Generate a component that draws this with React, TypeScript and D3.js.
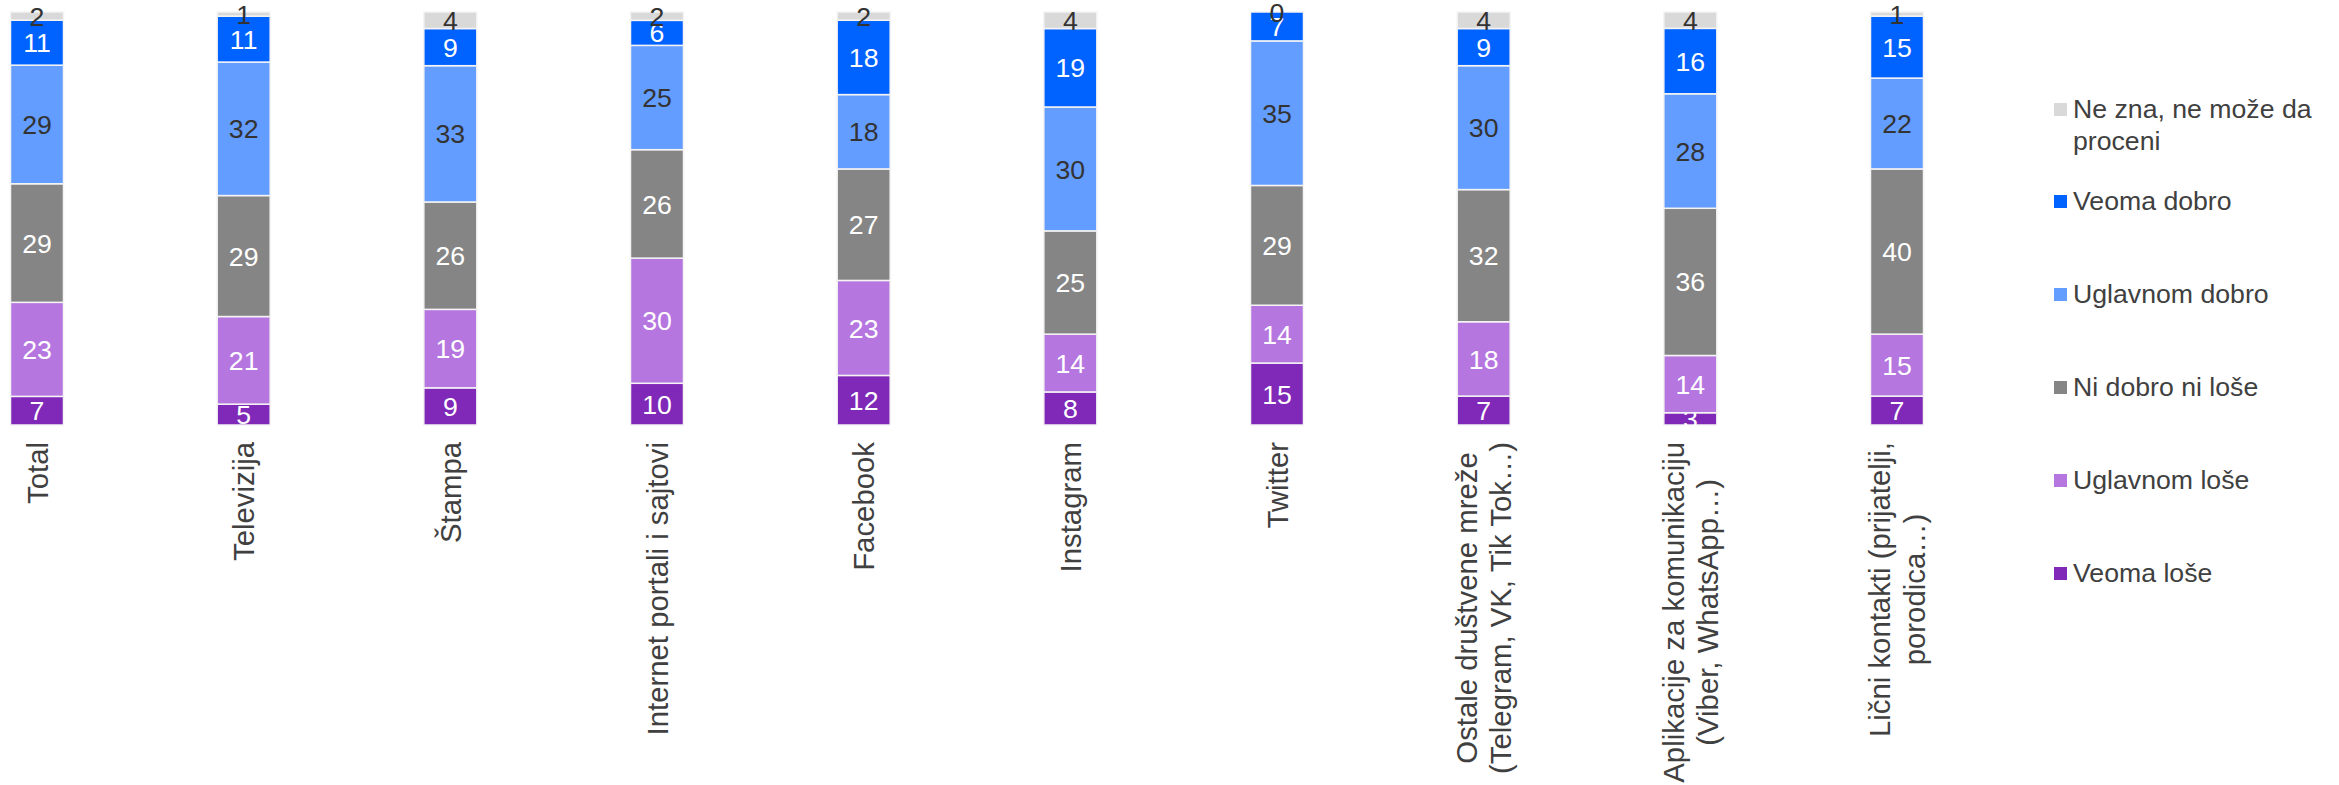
import React, { useEffect, useRef } from 'react';
import * as d3 from 'd3';

const categories = [
  'Total',
  'Televizija',
  'Štampa',
  'Internet portali i sajtovi',
  'Facebook',
  'Instagram',
  'Twitter',
  'Ostale društvene mreže\n(Telegram, VK, Tik Tok…)',
  'Aplikacije za komunikaciju\n(Viber, WhatsApp…)',
  'Lični kontakti (prijatelji,\nporodica…)',
];

// bottom to top
const seriesNames = ['Veoma loše', 'Uglavnom loše', 'Ni dobro ni loše', 'Uglavnom dobro', 'Veoma dobro', 'Ne zna, ne može da\nproceni'];
const veomaLose = [7, 5, 9, 10, 12, 8, 15, 7, 3, 7];
const uglavnomLose = [23, 21, 19, 30, 23, 14, 14, 18, 14, 15];
const niDobroNiLose = [29, 29, 26, 26, 27, 25, 29, 32, 36, 40];
const uglavnomDobro = [29, 32, 33, 25, 18, 30, 35, 30, 28, 22];
const veomaDobro = [11, 11, 9, 6, 18, 19, 7, 9, 16, 15];
const neZna = [2, 1, 4, 2, 2, 4, 0, 4, 4, 1];

const colors = ['#8028b8', '#b676df', '#858585', '#639dff', '#0062ff', '#d9d9d9'];
const labelColors = ['#ffffff', '#ffffff', '#ffffff', '#333333', '#ffffff', '#333333'];

const W = 2339;
const H = 785;
const FONT = 'Arial, "Liberation Sans", sans-serif';

export default function App() {
  const svgRef = useRef<SVGSVGElement>(null);

  useEffect(() => {
    if (!svgRef.current) return;
    const svg = d3.select(svgRef.current);
    svg.selectAll('*').remove();

    const values = [veomaLose, uglavnomLose, niDobroNiLose, uglavnomDobro, veomaDobro, neZna];
    const keys = seriesNames.map((_, i) => 's' + i);
    const table = categories.map((c, j) => {
      const row: any = { cat: c };
      const total = d3.sum(values, v => v[j]) || 1;
      values.forEach((v, i) => { row['s' + i] = v[j] / total; row['v' + i] = v[j]; });
      return row;
    });

    const stack = d3.stack().keys(keys)(table);

    const x = d3.scalePoint<string>().domain(categories).range([37, 1897]);
    const y = d3.scaleLinear().domain([0, 1]).range([425, 12]);
    const barW = 53;

    const g = svg.append('g');

    stack.forEach((layer, i) => {
      const lg = g.append('g');
      lg.selectAll('rect')
        .data(layer)
        .enter()
        .append('rect')
        .attr('x', d => (x((d.data as any).cat) || 0) - barW / 2)
        .attr('y', d => y(d[1]))
        .attr('width', barW)
        .attr('height', d => Math.max(0, y(d[0]) - y(d[1])))
        .attr('fill', colors[i])
        .attr('stroke', '#f4f4f4')
        .attr('stroke-width', 1.5);

      lg.selectAll('text')
        .data(layer)
        .enter()
        .append('text')
        .attr('x', d => x((d.data as any).cat) || 0)
        .attr('y', d => (y(d[0]) + y(d[1])) / 2)
        .attr('dy', '0.36em')
        .attr('text-anchor', 'middle')
        .attr('font-family', FONT)
        .attr('font-size', 26.67)
        .attr('fill', labelColors[i])
        .text(d => (d.data as any)['v' + i]);
    });

    // category labels, rotated, top-anchored under the axis
    const catG = svg.append('g');
    categories.forEach(c => {
      const lines = c.split('\n');
      const cx = x(c) || 0;
      const lh = 34.5;
      const t = catG.append('text')
        .attr('font-family', FONT)
        .attr('font-size', 29.33)
        .attr('fill', '#404040')
        .attr('text-anchor', 'middle');
      const spans = lines.map((l, k) => t.append('tspan').text(l).attr('data-k', k));
      const maxLen = d3.max(spans, s => (s.node() as SVGTSpanElement).getComputedTextLength()) || 0;
      const cy = 442 + maxLen / 2;
      t.attr('transform', `translate(${cx},${cy}) rotate(-90)`);
      spans.forEach((s, k) => {
        s.attr('x', 0).attr('y', (k - (lines.length - 1) / 2) * lh + 10.5);
      });
    });

    // legend, top to bottom
    const legendOrder = [5, 4, 3, 2, 1, 0];
    const legend = svg.append('g');
    legendOrder.forEach((si, idx) => {
      const base = idx === 0 ? 118 : 210 + (idx - 1) * 93;
      legend.append('rect')
        .attr('x', 2054)
        .attr('y', base - 15)
        .attr('width', 13)
        .attr('height', 13)
        .attr('fill', colors[si]);
      const t = legend.append('text')
        .attr('font-family', FONT)
        .attr('font-size', 26.67)
        .attr('fill', '#404040');
      seriesNames[si].split('\n').forEach((l, k) => {
        t.append('tspan').attr('x', 2073).attr('y', base + k * 32).text(l);
      });
    });
  }, []);

  return (
    <svg
      ref={svgRef}
      width={W}
      height={H}
      style={{ position: 'absolute', left: 0, top: 0, background: '#ffffff' }}
    />
  );
}
